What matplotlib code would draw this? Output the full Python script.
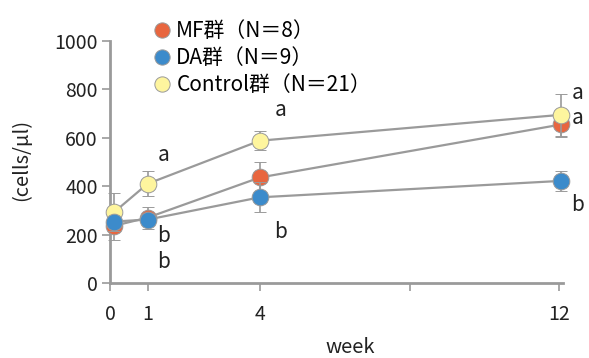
import matplotlib
matplotlib.use("Agg")
import matplotlib.pyplot as plt
from matplotlib.lines import Line2D

plt.rcParams['font.family'] = ['Noto Sans CJK JP', 'DejaVu Sans']

weeks = [0.1, 1, 4, 12.05]
xticks = [0, 1, 4, 8, 12]
xticklabels = ['0', '1', '4', '', '12']

mf = [236, 270, 436, 655]
mf_err = [58, 45, 62, 50]
da = [254, 262, 354, 422]
da_err = [20, 20, 62, 42]
ctrl = [292, 410, 588, 695]
ctrl_err = [78, 52, 40, 88]

labels = ['MF群（N＝8）', 'DA群（N＝9）', 'Control群（N＝21）']
colors = ['#E8663F', '#3C8BCB', '#FEF59E']

# significance letters: (x, y, text)
letters_x = [1.42, 1.42, 1.42, 4.55, 4.55, 12.5, 12.5, 12.5]
letters_y = [528, 195, 85, 715, 210, 785, 680, 322]
letters = ['a', 'b', 'b', 'a', 'b', 'a', 'a', 'b']

gray = '#9a9a9a'

fig = plt.figure(figsize=(5.89, 3.58), dpi=100)
ax = fig.add_axes([0.187, 0.2095, 0.769, 0.676])

series = [(mf, mf_err), (da, da_err), (ctrl, ctrl_err)]
zorders = [3, 5, 4]
for i in range(3):
    y, e = series[i]
    ax.errorbar(weeks, y, yerr=e, color=gray, lw=1.6, ecolor=gray,
                elinewidth=1.2, capsize=4.5, capthick=1.2,
                marker='o', ms=12, mfc=colors[i], mec=gray, mew=0.7,
                clip_on=False, zorder=zorders[i])

for lx, ly, t in zip(letters_x, letters_y, letters):
    ax.text(lx, ly, t, fontsize=15, ha='center', va='center', color='#222222')

ax.set_xlim(0, 12.1)
ax.set_ylim(0, 1000)
ax.set_xticks(xticks)
ax.set_xticklabels(xticklabels)
ax.set_yticks(range(0, 1001, 200))
for s in ['top', 'right']:
    ax.spines[s].set_visible(False)
for s in ['left', 'bottom']:
    ax.spines[s].set_color(gray)
    ax.spines[s].set_linewidth(2)
ax.tick_params(colors=gray, labelcolor='#222222', labelsize=14, width=1.2, length=6)
ax.tick_params(axis='x', pad=9)
ax.tick_params(axis='y', pad=3)

fig.text(0.036, 0.553, '(cells/μl)', rotation=90, ha='center', va='center',
         fontsize=14.5, color='#222222')
fig.text(0.595, 0.03, 'week', ha='center', va='center', fontsize=14.5, color='#222222')

handles = [Line2D([], [], ls='none', marker='o', ms=11, mfc=c, mec=gray, mew=0.7)
           for c in colors]
fig.legend(handles, labels, loc='upper left', bbox_to_anchor=(0.225, 0.99),
           frameon=False, fontsize=15, handletextpad=0.1, labelspacing=0.24,
           handlelength=1.2, borderpad=0.3)

fig.savefig('out.png', dpi=100)
